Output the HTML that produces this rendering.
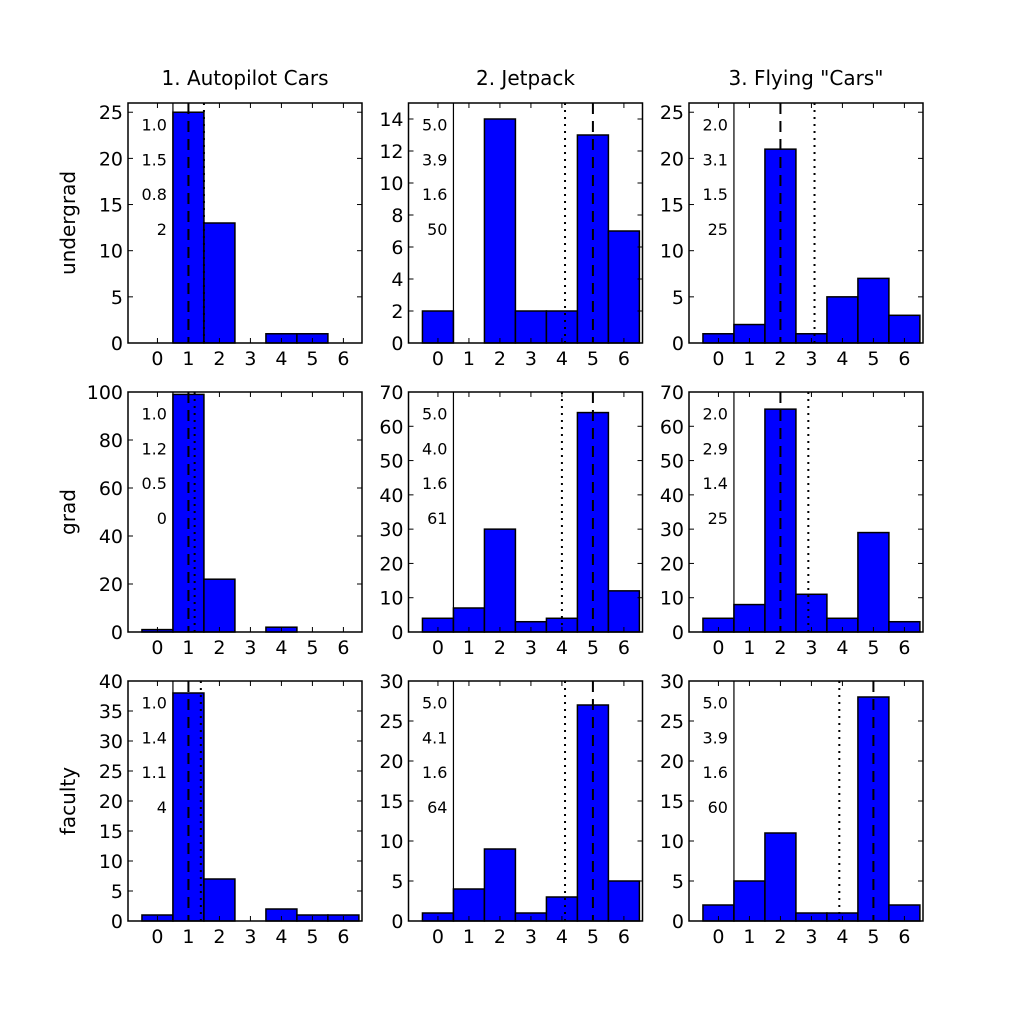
<!DOCTYPE html>
<html><head><meta charset="utf-8"><style>body{margin:0;background:#fff}svg{display:block}text{font-family:"DejaVu Sans","Liberation Sans",sans-serif;fill:#000}</style></head>
<body>
<svg id="fig" width="1024" height="1024" viewBox="0 0 1024 1024" xmlns="http://www.w3.org/2000/svg"></svg>
<script>
const categories = [0,1,2,3,4,5,6];
const colTitles = ['1. Autopilot Cars','2. Jetpack','3. Flying "Cars"'];
const rowTitles = ['undergrad','grad','faculty'];
const countsUndergrad = [[0,25,13,0,1,1,0],[2,0,14,2,2,13,7],[1,2,21,1,5,7,3]];
const countsGrad = [[1,99,22,0,2,0,0],[4,7,30,3,4,64,12],[4,8,65,11,4,29,3]];
const countsFaculty = [[1,38,7,0,2,1,1],[1,4,9,1,3,27,5],[2,5,11,1,1,28,2]];
const yMaxes = [[26,15,26],[100,70,70],[40,30,30]];
const yStepsAll = [[5,2,5],[20,10,10],[5,5,5]];
const medians = [[1.0,5.0,2.0],[1.0,5.0,2.0],[1.0,5.0,5.0]];
const means = [[1.5,4.1,3.1],[1.2,4.0,2.9],[1.4,4.1,3.9]];
const statLabels = [[['1.0','1.5','0.8','2'],['5.0','3.9','1.6','50'],['2.0','3.1','1.5','25']],
 [['1.0','1.2','0.5','0'],['5.0','4.0','1.6','61'],['2.0','2.9','1.4','25']],
 [['1.0','1.4','1.1','4'],['5.0','4.1','1.6','64'],['5.0','3.9','1.6','60']]];
const allCounts=[countsUndergrad,countsGrad,countsFaculty];
const NS='http://www.w3.org/2000/svg';
const svg=document.getElementById('fig');
function mk(tag,attrs,parent){const e=document.createElementNS(NS,tag);for(const k in attrs)e.setAttribute(k,attrs[k]);(parent||svg).appendChild(e);return e;}
const colLeft=[128,408.5,689], rowTop=[103,392,681], W=234, H=240, XMIN=-0.95, XMAX=6.6;
for(let r=0;r<3;r++){for(let c=0;c<3;c++){
 const L=colLeft[c],T=rowTop[r],B=T+H,R=L+W;
 const xs=v=>L+(v-XMIN)/(XMAX-XMIN)*W;
 const ys=v=>B-v/yMaxes[r][c]*H;
 const g=mk('g',{});
 
 
 const data=allCounts[r][c];
 categories.forEach((cat,i)=>{
  const b=mk('rect',{x:xs(cat-0.5),y:ys(data[i]),width:xs(cat+0.5)-xs(cat-0.5),height:B-ys(data[i]),fill:'#0000ff',stroke:'#000','stroke-width':1.5},g);
  
  
 });
 const sl=mk('line',{x1:xs(0.5),x2:xs(0.5),y1:T,y2:B,stroke:'#000','stroke-width':1.2},g);
 
 
 const md=mk('line',{x1:xs(medians[r][c]),x2:xs(medians[r][c]),y1:T,y2:B,stroke:'#000','stroke-width':2,'stroke-dasharray':'11,7'},g);
 
 
 const mn=mk('line',{x1:xs(means[r][c]),x2:xs(means[r][c]),y1:T,y2:B,stroke:'#000','stroke-width':2,'stroke-dasharray':'2,5'},g);
 
 
 statLabels[r][c].forEach((s,k)=>{
  const t=mk('text',{x:xs(0.5)-6,y:T+H*(0.09+0.145*k)+6,'text-anchor':'end','font-size':16},g);
  t.textContent=s;
  
  
 });
 const frame=mk('rect',{x:L,y:T,width:W,height:H,fill:'none',stroke:'#000','stroke-width':1.5},g);
 
 
 categories.forEach(cat=>{
  const x=xs(cat);
  mk('line',{x1:x,x2:x,y1:B,y2:B-5,stroke:'#000'},g);
  mk('line',{x1:x,x2:x,y1:T,y2:T+5,stroke:'#000'},g);
  const t=mk('text',{x:x,y:B+22,'text-anchor':'middle','font-size':19},g);
  t.textContent=cat;
  
  
 });
 const st=yStepsAll[r][c];
 for(let v=0;v<=yMaxes[r][c]+1e-9;v+=st){
  const y=ys(v);
  mk('line',{x1:L,x2:L+5,y1:y,y2:y,stroke:'#000'},g);
  mk('line',{x1:R,x2:R-5,y1:y,y2:y,stroke:'#000'},g);
  const t=mk('text',{x:L-5,y:y+7,'text-anchor':'end','font-size':19},g);
  t.textContent=v;
  
  
 }
 if(r===0){const t=mk('text',{x:L+W/2,y:85,'text-anchor':'middle','font-size':20});t.textContent=colTitles[c];
  
  }
 if(c===0){const t=mk('text',{x:75,y:T+H/2,'text-anchor':'middle','font-size':20,transform:'rotate(-90 75 '+(T+H/2)+')'});t.textContent=rowTitles[r];
  
  }
}}
</script>
</body></html>
